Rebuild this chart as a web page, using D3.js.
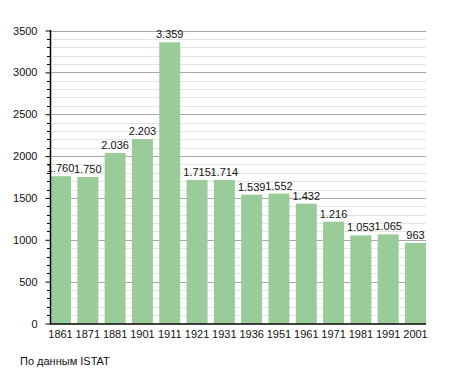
<!DOCTYPE html>
<html><head><meta charset="utf-8">
<script src="https://cdn.jsdelivr.net/npm/d3@7"></script>
<style>body{margin:0;background:#fff}svg{display:block;font-family:"Liberation Sans",Arial,sans-serif}</style>
</head><body><svg id="c" width="455" height="373"></svg>
<script>
const years = ["1861","1871","1881","1901","1911","1921","1931","1936","1951","1961","1971","1981","1991","2001"];
const population = [1760,1750,2036,2203,3359,1715,1714,1539,1552,1432,1216,1053,1065,963];
const yTicks = [0,500,1000,1500,2000,2500,3000,3500];
const sourceText = "По данным  ISTAT";

const svg = d3.select("#c");
const x = d3.scaleBand().domain(years).range([50,426]).paddingInner(0.231).paddingOuter(0).align(0);
const y = d3.scaleLinear().domain([0,3500]).range([323.5,30.5]);
const fmt = v => d3.format(",")(v).replace(/,/g,".");

// minor grid
const minor = d3.range(100,3501,100).filter(v=>v%500!==0);
svg.append("g").selectAll("line").data(minor).join("line")
  .attr("x1",50).attr("x2",426).attr("y1",d=>Math.round(y(d))+0.5).attr("y2",d=>Math.round(y(d))+0.5)
  .attr("stroke","#e4e4e4").attr("stroke-width",1);
svg.append("g").selectAll("line").data(yTicks.filter(v=>v>0)).join("line")
  .attr("x1",50).attr("x2",426).attr("y1",d=>Math.round(y(d))+0.5).attr("y2",d=>Math.round(y(d))+0.5)
  .attr("stroke","#a8a8a8").attr("stroke-width",1);

// bars
svg.append("g").selectAll("rect").data(years).join("rect")
  .attr("x",d=>x(d)).attr("width",x.bandwidth())
  .attr("y",(d,i)=>y(population[i])).attr("height",(d,i)=>y(0)-y(population[i]))
  .attr("fill","#99cc99");

// value labels
svg.append("g").selectAll("text").data(years).join("text")
  .attr("x",d=>x(d)+x.bandwidth()/2).attr("y",(d,i)=>y(population[i])-4)
  .attr("text-anchor","middle").attr("font-size",11).attr("fill","#111")
  .text((d,i)=>fmt(population[i]));

// y axis
const yAxis = d3.axisLeft(y).tickValues(yTicks).tickSize(5).tickPadding(8).tickFormat(d3.format("d"));
const gy = svg.append("g").attr("transform","translate(50.5,0)").call(yAxis);
gy.selectAll("text").attr("font-size",11).attr("fill","#111").attr("font-family","Liberation Sans, Arial, sans-serif");
gy.select(".domain").remove();
gy.selectAll(".tick line").attr("stroke","#000");
// minor ticks
svg.append("g").selectAll("line").data(minor).join("line")
  .attr("x1",47).attr("x2",50).attr("y1",d=>Math.round(y(d))+0.5).attr("y2",d=>Math.round(y(d))+0.5)
  .attr("stroke","#000");
svg.append("line").attr("x1",50.5).attr("x2",50.5).attr("y1",30).attr("y2",324.5).attr("stroke","#000").attr("stroke-width",1.5);

// x axis
const xAxis = d3.axisBottom(x).tickSize(0).tickPadding(7);
const gx = svg.append("g").attr("transform","translate(0,323.5)").call(xAxis);
gx.select(".domain").remove();
gx.selectAll("text").attr("font-size",11).attr("fill","#111").attr("font-family","Liberation Sans, Arial, sans-serif");
svg.append("line").attr("x1",50).attr("x2",426).attr("y1",324).attr("y2",324).attr("stroke","#000").attr("stroke-width",1.5);

svg.append("text").attr("x",20).attr("y",365).attr("font-size",11).attr("fill","#111").text(sourceText);
</script></body></html>
